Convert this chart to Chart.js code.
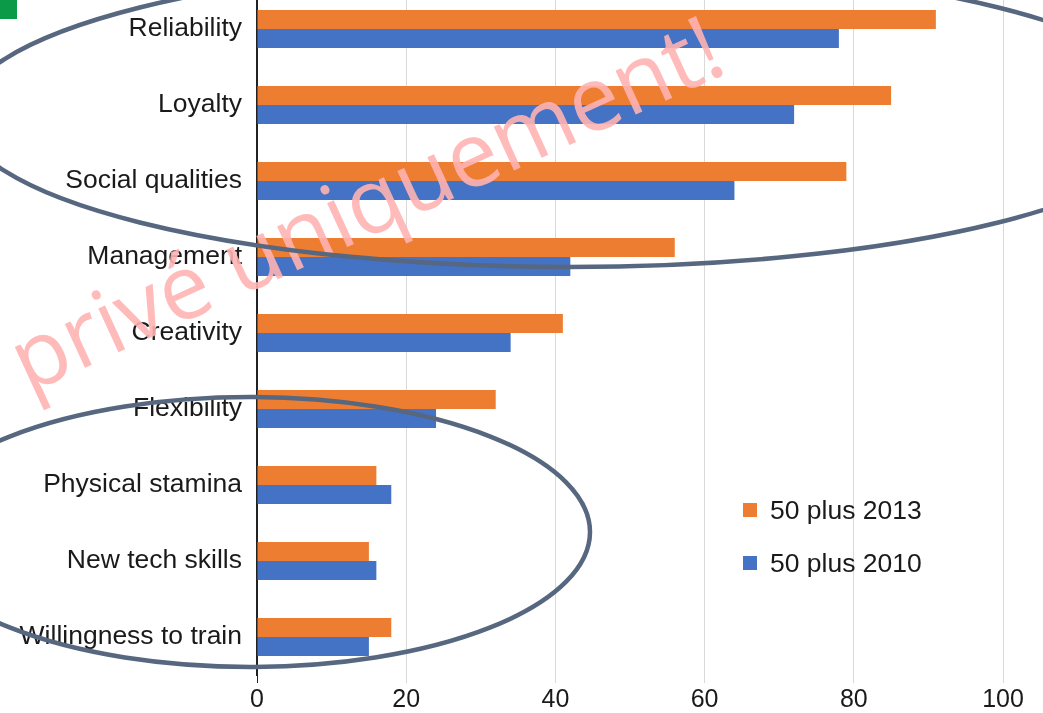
<!DOCTYPE html>
<html>
<head>
<meta charset="utf-8">
<script src="https://cdn.jsdelivr.net/npm/chart.js@4/dist/chart.umd.min.js"></script>
<style>
  html, body { margin: 0; padding: 0; background: #fff; overflow: hidden; }
  #wrap { position: absolute; left: 0; top: -40px; width: 1043px; height: 753px; }
  #over { position: absolute; left: 0; top: 0; width: 1043px; height: 713px; pointer-events: none; }
</style>
</head>
<body>
<div id="wrap"><canvas id="bars"></canvas></div>
<svg id="over" width="1043" height="713" xmlns="http://www.w3.org/2000/svg"></svg>
<script>
const categories = ['Reliability', 'Loyalty', 'Social qualities', 'Management', 'Creativity',
  'Flexibility', 'Physical stamina', 'New tech skills', 'Willingness to train'];
const plus2013 = [91, 85, 79, 56, 41, 32, 16, 15, 18];
const plus2010 = [78, 72, 64, 42, 34, 24, 18, 16, 15];
const seriesNames = ['50 plus 2013', '50 plus 2010'];
const xTicks = [0, 20, 40, 60, 80, 100];

const ORANGE = '#ED7D31';
const BLUE = '#4472C4';

document.addEventListener('DOMContentLoaded', () => {
    const ctx = document.getElementById('bars').getContext('2d');
    const chart = new Chart(ctx, {
        type: 'bar',
        data: {
            labels: categories,
            datasets: [
                { label: seriesNames[0], data: plus2013, backgroundColor: ORANGE },
                { label: seriesNames[1], data: plus2010, backgroundColor: BLUE }
            ]
        },
        options: {
            indexAxis: 'y',
            responsive: true,
            maintainAspectRatio: false,
            animation: false,
            categoryPercentage: 0.5,
            barPercentage: 1.0,
            // chart top is cut off in the reference, so the canvas starts 40px above the page
            layout: { padding: { top: 28, right: 40, left: 0, bottom: 0 } },
            plugins: {
                legend: { display: false },
                tooltip: { enabled: false }
            },
            scales: {
                x: {
                    min: 0,
                    max: 100,
                    afterFit: (s) => { s.height = 38; },
                    afterBuildTicks: (s) => { s.ticks = xTicks.map(v => ({ value: v })); },
                    grid: {
                        color: (c) => (c.tick && c.tick.value === 0) ? '#222' : '#d9d9d9',
                        lineWidth: 1,
                        tickLength: 8
                    },
                    border: { display: false },
                    ticks: {
                        padding: 2,
                        color: '#1a1a1a',
                        font: { family: '"Liberation Sans Narrow", "Liberation Sans", Arial, sans-serif', size: 25 }
                    }
                },
                y: {
                    afterFit: (s) => { s.width = 257; },
                    grid: { display: false, drawTicks: false },
                    border: { display: true, color: '#222', width: 1.5 },
                    ticks: {
                        padding: 15,
                        color: '#1a1a1a',
                        font: { family: '"Liberation Sans", Arial, sans-serif', size: 26.5 }
                    }
                }
            }
        }
    });

    // overlay: legend, watermark, hand-drawn ellipses, green marker
    const NS = 'http://www.w3.org/2000/svg';
    const svg = document.getElementById('over');
    function el(name, attrs, text) {
        const e = document.createElementNS(NS, name);
        for (const k in attrs) e.setAttribute(k, attrs[k]);
        if (text) e.textContent = text;
        svg.appendChild(e);
        return e;
    }

    chart.data.datasets.forEach((ds, i) => {
        const y = 510 + i * 53;
        el('rect', { x: 743, y: y - 7, width: 14, height: 14, fill: ds.backgroundColor });
        el('text', { x: 770, y: y, 'dominant-baseline': 'central',
            'font-family': 'Liberation Sans, Arial, sans-serif', 'font-size': 26.5, fill: '#1a1a1a' }, ds.label);
    });

    el('rect', { x: 0, y: 0, width: 17, height: 19, fill: '#0a9a48' });

    const wm = { 'font-family': 'Open Sans, DejaVu Sans, sans-serif', 'font-size': 90,
        fill: 'rgba(255,178,178,0.9)', transform: 'rotate(-24.7 28 394)' };
    el('text', Object.assign({ x: 28, y: 394 }, wm), 'privé uniquement!');
    el('text', Object.assign({ x: 5, y: 394, 'text-anchor': 'end' }, wm), 'Usage');

    const ring = { fill: 'none', stroke: '#56677f', 'stroke-width': 4.5 };
    el('ellipse', Object.assign({ cx: 569, cy: 115, rx: 607, ry: 152 }, ring));
    el('ellipse', Object.assign({ cx: 250, cy: 532, rx: 340, ry: 135 }, ring));
});
</script>
</body>
</html>
